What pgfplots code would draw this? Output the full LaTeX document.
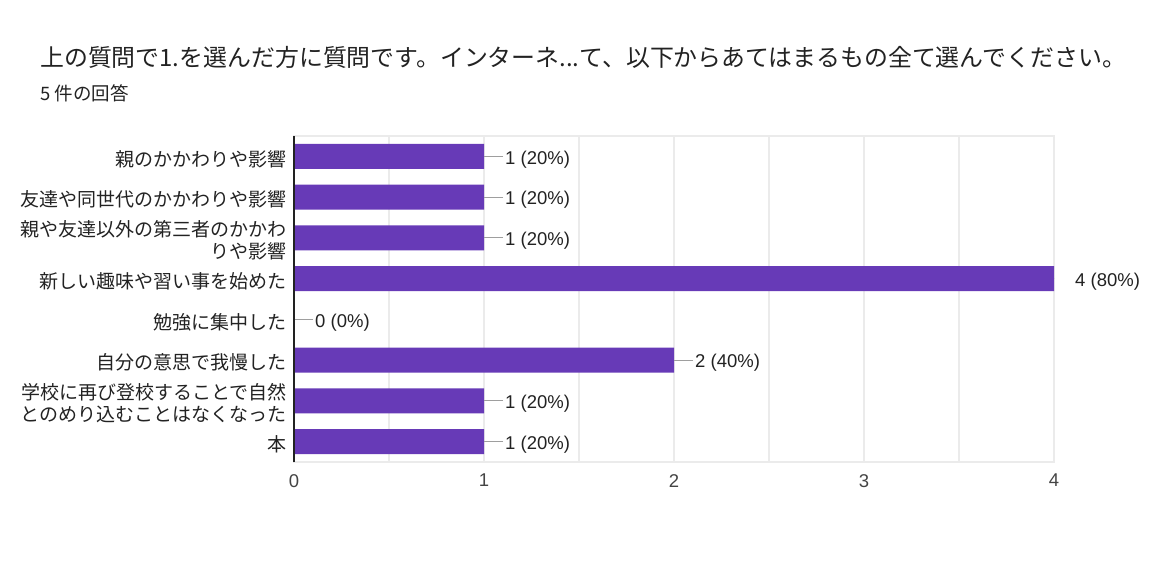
\documentclass[border=0pt]{standalone}
\usepackage{fontspec}
\setmainfont{Noto Sans CJK JP}
\newfontfamily\arial{Liberation Sans}
\usepackage{pgfplots}
\pgfplotsset{compat=1.18}
\usepackage{pgfplotstable}

\definecolor{barpurple}{HTML}{673AB7}
\definecolor{gridgray}{HTML}{EBEBEB}
\definecolor{txt}{HTML}{222222}
\definecolor{ticknum}{HTML}{444444}
\definecolor{connector}{HTML}{9E9E9E}

% answers: position (top to bottom), count, label
\pgfplotstableread[col sep=comma]{
pos,count,lab
0,1,1 (20\%)
1,1,1 (20\%)
2,1,1 (20\%)
3,4,4 (80\%)
4,0,0 (0\%)
5,2,2 (40\%)
6,1,1 (20\%)
7,1,1 (20\%)
}\answers

\begin{document}
\begin{tikzpicture}
\path[use as bounding box] (0,0) rectangle (1172pt,560pt);
\node[anchor=west, text=txt, inner sep=0pt, font=\fontsize{23.9}{28}\selectfont]
  at (40pt,503pt) {上の質問で1.を選んだ方に質問です。インターネ...て、以下からあてはまるもの全て選んでください。};
\node[anchor=west, text=txt, inner sep=0pt, font=\fontsize{18.5}{21}\selectfont]
  at (40pt,467pt) {5 件の回答};
\begin{axis}[
  at={(294pt,98pt)}, anchor=south west,
  scale only axis, width=760pt, height=326pt,
  xmin=0, xmax=4, ymin=-0.5, ymax=7.5,
  y dir=reverse,
  xtick={0,1,2,3,4}, minor x tick num=1,
  xmajorgrids, xminorgrids,
  grid style={gridgray, line width=1.2pt},
  minor grid style={gridgray, line width=1.2pt},
  axis line style={gridgray, line width=1.2pt},
  major tick length=0pt, minor tick length=0pt,
  ytick={0,...,7},
  yticklabels={
    {親のかかわりや影響},
    {友達や同世代のかかわりや影響},
    {親や友達以外の第三者のかかわ\\りや影響},
    {新しい趣味や習い事を始めた},
    {勉強に集中した},
    {自分の意思で我慢した},
    {学校に再び登校することで自然\\とのめり込むことはなくなった},
    {本}},
  yticklabel style={align=right, text=txt, inner sep=0pt, xshift=-7pt, yshift=-2.5pt,
    font=\fontsize{19}{22}\selectfont},
  xticklabel style={text=ticknum, inner sep=0pt, yshift=-12pt,
    font=\arial\fontsize{18.5}{20}\selectfont},
  /pgf/number format/assume math mode=true,
  clip mode=individual,
]
\addplot[xbar, bar width=25pt, fill=barpurple, draw=none,
  point meta=explicit symbolic,
  nodes near coords,
  every node near coord/.append style={anchor=west, xshift=21pt, yshift=-3pt, inner sep=0pt,
    text=txt, font=\arial\fontsize{18.5}{20}\selectfont},
  error bars/.cd, x dir=plus, x fixed=0.1, error mark=none,
  error bar style={connector, line width=1.2pt}]
  table[x=count, y=pos, meta=lab] {\answers};
\draw[txt, line width=1.2pt] (rel axis cs:0,0) -- (rel axis cs:0,1);
\end{axis}
\end{tikzpicture}
\end{document}
